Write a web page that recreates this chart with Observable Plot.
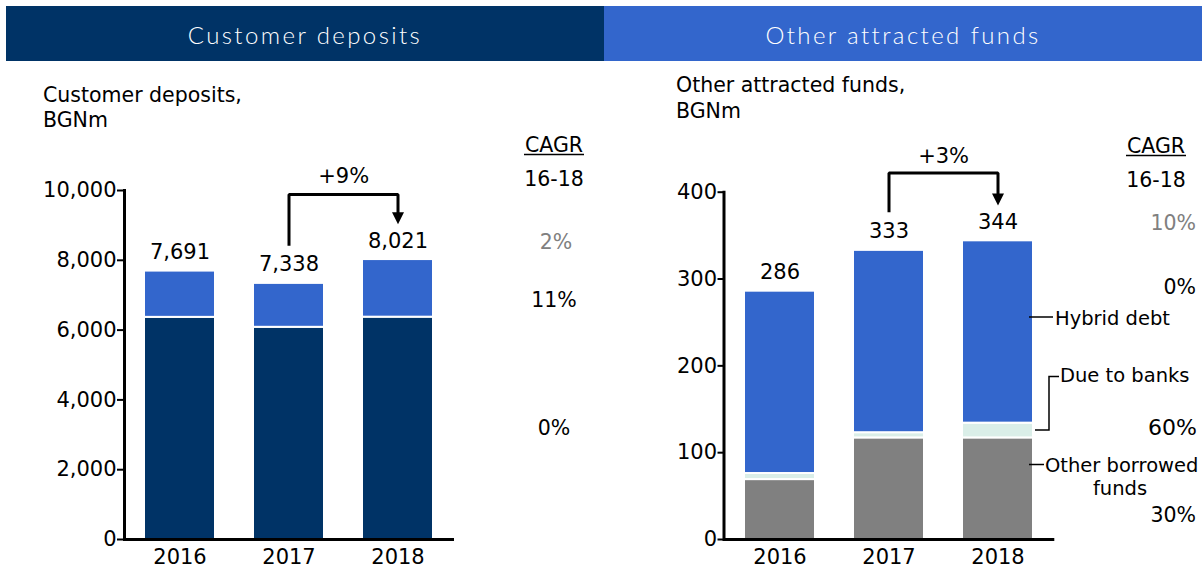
<!DOCTYPE html>
<html>
<head>
<meta charset="utf-8">
<script src="https://cdn.jsdelivr.net/npm/d3@7"></script>
<script src="https://cdn.jsdelivr.net/npm/@observablehq/plot@0.6"></script>
<style>
  body { margin: 0; background: #fff; }
  #page { position: relative; width: 1202px; height: 570px; overflow: hidden; font-family: "DejaVu Sans", Verdana, sans-serif; }
  .band { position: absolute; top: 6px; height: 55px; color: #fff; font-family: Lato, "Open Sans", sans-serif; font-weight: 300; font-size: 24px; letter-spacing: 2.4px; display: flex; align-items: center; justify-content: center; padding-top: 1px; box-sizing: border-box; }
  .chart { position: absolute; top: 150px; }
  .chart svg { overflow: visible; }
</style>
</head>
<body>
<div id="page">
  <div class="band" style="left:6px;width:598px;background:#003366;">Customer deposits</div>
  <div class="band" style="left:604px;width:598px;background:#3366CC;">Other attracted funds</div>
  <div class="chart" id="left" style="left:0px;"></div>
  <div class="chart" id="right" style="left:600px;"></div>
</div>
<script>
// ---------- data ----------
const years = ["2016", "2017", "2018"];

const depositsLower = [6365, 6080, 6370];
const depositsUpper = [1326, 1258, 1651];
const depositTotals = [7691, 7338, 8021];
const depositTicks = [0, 2000, 4000, 6000, 8000, 10000];
const depositCagr = ["2%", "11%", "0%"];
const depositGrowth = "+9%";

const otherBorrowed = [69, 117, 117];
const dueToBanks = [7, 6, 17];
const hybridDebt = [210, 210, 210];
const fundTotals = [286, 333, 344];
const fundTicks = [0, 100, 200, 300, 400];
const fundSeries = ["Other borrowed funds", "Due to banks", "Hybrid debt"];
const fundCagr = ["10%", "0%", "60%", "30%"];
const fundGrowth = "+3%";

const titles = [["Customer deposits,", "BGNm"], ["Other attracted funds,", "BGNm"]];
const cagrHead = ["CAGR", "16-18"];

// ---------- styling ----------
const NAVY = "#003366", BLUE = "#3366CC", GREY = "#808080", MINT = "#DAEEE8";
const FONT = "DejaVu Sans, Verdana, sans-serif";

// ---------- tables ----------
const depRows = years.flatMap((yr, i) => [
  {year: yr, series: "lower", value: depositsLower[i]},
  {year: yr, series: "upper", value: depositsUpper[i]}
]);
const depTot = years.map((yr, i) => ({year: yr, total: depositTotals[i]}));

const fundRows = years.flatMap((yr, i) => [
  {year: yr, series: fundSeries[0], value: otherBorrowed[i]},
  {year: yr, series: fundSeries[1], value: dueToBanks[i]},
  {year: yr, series: fundSeries[2], value: hybridDebt[i]}
]);
const fundTot = years.map((yr, i) => ({year: yr, total: fundTotals[i]}));

// downward filled arrowhead, tip at the anchor point
const arrowHead = {draw(ctx) { ctx.moveTo(0, 0); ctx.lineTo(-6, -12); ctx.lineTo(6, -12); ctx.closePath(); }};

function growthMarks(from, to, yStart, yTop, yTip, lineEnd, label, halfStep, labelDy) {
  return [
    Plot.line([{x: from, y: yStart}, {x: from, y: yTop}, {x: to, y: yTop}, {x: to, y: lineEnd}],
      {x: "x", y: "y", stroke: "black", strokeWidth: 3, strokeLinejoin: "miter", strokeLinecap: "butt"}),
    Plot.dot([{x: to, y: yTip}], {x: "x", y: "y", symbol: arrowHead, fill: "black", stroke: null, r: 6}),
    Plot.text([label], {x: () => from, y: () => yTop, dx: halfStep, dy: labelDy, lineAnchor: "bottom", fontSize: 21, fill: "black"})
  ];
}

const common = {
  height: 420, marginBottom: 31,
  style: {fontFamily: FONT, fontSize: "21px", color: "black", background: "transparent", overflow: "visible"},
};

const left = Plot.plot({
  ...common,
  width: 470, marginLeft: 124, marginRight: 16, marginTop: 40,
  x: {domain: years, paddingInner: 0.345, paddingOuter: 0.18, axis: null},
  y: {domain: [0, 10000], axis: null},
  color: {domain: ["lower", "upper"], range: [NAVY, BLUE]},
  marks: [
    Plot.barY(depRows, {x: "year", y: "value", fill: "series", stroke: "white", strokeWidth: 2}),
    Plot.axisY(depositTicks, {tickSize: 7, tickPadding: 1, strokeWidth: 2, tickFormat: d3.format(",")}),
    Plot.axisX(years, {tickSize: 0, tickPadding: 10}),
    Plot.frame({anchor: "left", strokeWidth: 3}),
    Plot.ruleY([0], {strokeWidth: 3}),
    Plot.text(depTot, {x: "year", y: "total", text: d => d3.format(",")(d.total), lineAnchor: "bottom", dy: -12, fill: "black"}),
    ...growthMarks("2017", "2018", 8420, 9885, 9030, 9290, depositGrowth, 54.7, -12)
  ]
});
document.getElementById("left").append(left);

const right = Plot.plot({
  ...common,
  width: 602, marginLeft: 123.5, marginRight: 147.7, marginTop: 41.7,
  x: {domain: years, paddingInner: 0.345, paddingOuter: 0.185, axis: null},
  y: {domain: [0, 400], axis: null},
  color: {domain: fundSeries, range: [GREY, MINT, BLUE]},
  marks: [
    Plot.barY(fundRows, {x: "year", y: "value", fill: "series", stroke: "white", strokeWidth: 2}),
    Plot.axisY(fundTicks, {tickSize: 6, tickPadding: 1, strokeWidth: 2}),
    Plot.axisX(years, {tickSize: 0, tickPadding: 10}),
    Plot.frame({anchor: "left", strokeWidth: 3}),
    Plot.ruleY([0], {strokeWidth: 3}),
    Plot.text(fundTot, {x: "year", y: "total", text: d => String(d.total), lineAnchor: "bottom", dy: -12, fill: "black"}),
    ...growthMarks("2017", "2018", 377, 422, 384.7, 394, fundGrowth, 54.6, -10.5)
  ]
});
document.getElementById("right").append(right);

// ---------- annotations overlay ----------
const ov = d3.select("#page").append("svg")
  .attr("width", 1202).attr("height", 570)
  .style("position", "absolute").style("left", 0).style("top", 0)
  .style("font-family", FONT).style("pointer-events", "none");

function txt(x, y, s, o = {}) {
  ov.append("text").attr("x", x).attr("y", y)
    .attr("text-anchor", o.anchor || "start")
    .attr("font-size", o.size || 20.5)
    .attr("fill", o.fill || "black")
    .text(s);
}
function seg(points) {
  ov.append("path").attr("d", d3.line()(points))
    .attr("fill", "none").attr("stroke", "black").attr("stroke-width", 1.5);
}

// chart titles
txt(43, 102, titles[0][0]); txt(43, 127, titles[0][1]);
txt(676, 92, titles[1][0]); txt(676, 118, titles[1][1]);

// CAGR column, left
txt(554, 152, cagrHead[0], {anchor: "middle"});
ov.append("line").attr("x1", 524).attr("x2", 584).attr("y1", 154.5).attr("y2", 154.5).attr("stroke", "black").attr("stroke-width", 1.5);
txt(554, 186, cagrHead[1], {anchor: "middle"});
txt(556, 249, depositCagr[0], {anchor: "middle", fill: GREY});
txt(554, 307, depositCagr[1], {anchor: "middle"});
txt(554, 435, depositCagr[2], {anchor: "middle"});

// CAGR column, right
txt(1156, 153, cagrHead[0], {anchor: "middle"});
ov.append("line").attr("x1", 1126).attr("x2", 1186).attr("y1", 155.5).attr("y2", 155.5).attr("stroke", "black").attr("stroke-width", 1.5);
txt(1156, 187, cagrHead[1], {anchor: "middle"});
txt(1196, 230, fundCagr[0], {anchor: "end", fill: GREY});
txt(1196, 294, fundCagr[1], {anchor: "end"});
txt(1197, 435, fundCagr[2], {anchor: "end", size: 22});
txt(1196, 522, fundCagr[3], {anchor: "end"});

// series labels with leader lines
seg([[1029, 317], [1053, 317]]);
txt(1055, 325, fundSeries[2], {size: 19.5});
seg([[1035, 430], [1049, 430], [1049, 376.5], [1059, 376.5]]);
txt(1060, 382, fundSeries[1], {size: 19.5});
seg([[1029, 464.5], [1044, 464.5]]);
txt(1045, 472, "Other borrowed", {size: 19.5});
txt(1120, 495, "funds", {anchor: "middle", size: 19.5});
</script>
</body>
</html>
